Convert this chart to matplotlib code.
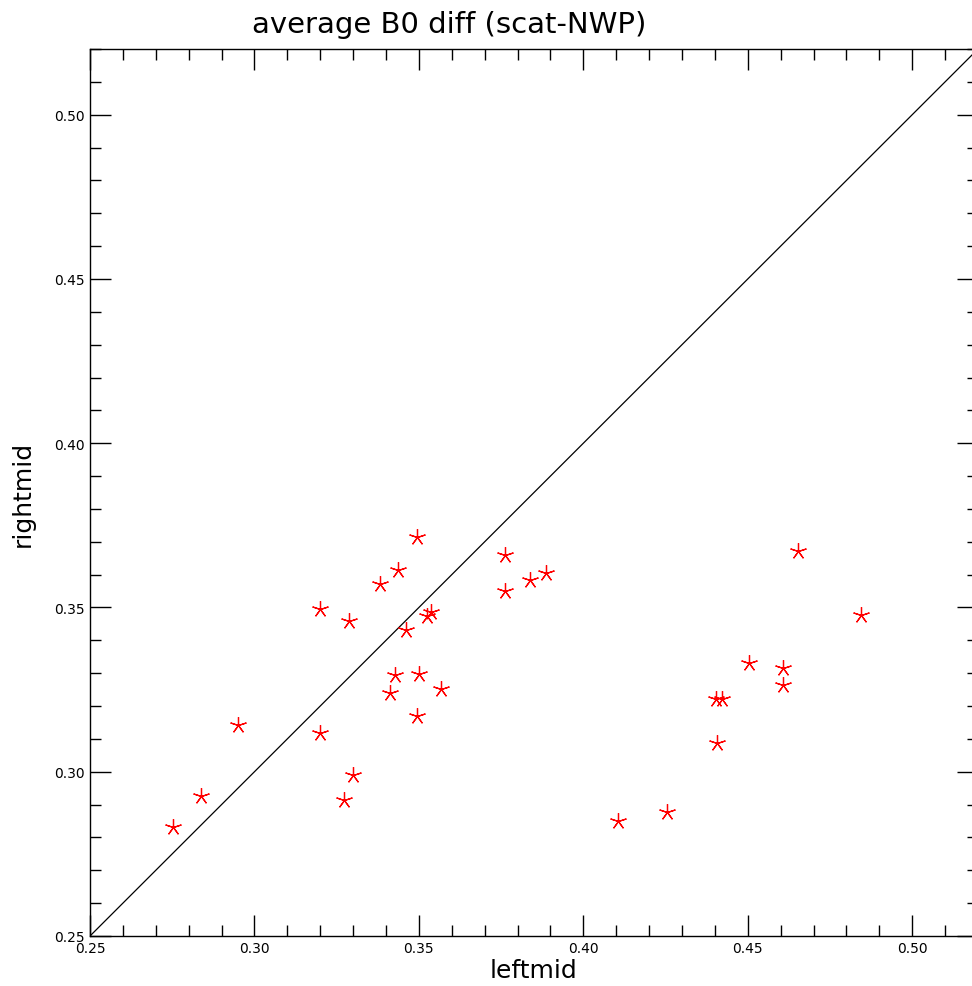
import numpy as np
import matplotlib
matplotlib.use('Agg')
import matplotlib.pyplot as plt
from matplotlib.ticker import MultipleLocator, FormatStrFormatter

leftmid = [0.2753, 0.2838, 0.2950, 0.3200, 0.3200, 0.3288, 0.3273, 0.3300,
           0.3383, 0.3437, 0.3495, 0.3462, 0.3537, 0.3525, 0.3428, 0.3413,
           0.3501, 0.3568, 0.3495, 0.3763, 0.3763, 0.3839, 0.3888, 0.4106,
           0.4255, 0.4407, 0.4402, 0.4422, 0.4505, 0.4608, 0.4608, 0.4652,
           0.4843]
rightmid = [0.2832, 0.2925, 0.3143, 0.3494, 0.3119, 0.3459, 0.2914, 0.2989,
            0.3570, 0.3615, 0.3716, 0.3430, 0.3485, 0.3473, 0.3294, 0.3241,
            0.3296, 0.3252, 0.3169, 0.3659, 0.3549, 0.3585, 0.3604, 0.2849,
            0.2878, 0.3086, 0.3220, 0.3220, 0.3332, 0.3316, 0.3265, 0.3672,
            0.3477]

lo, hi = 0.25, 0.52

fig = plt.figure(figsize=(9.72, 9.87), dpi=100)
ax = fig.add_axes([90/972, 50/987, 888/972, 887/987])

ax.plot([lo, hi], [lo, hi], color='black', lw=0.9)
ax.plot(leftmid, rightmid, linestyle='none', marker=(5, 2, 0), markersize=12,
        markeredgewidth=0.9, color='red')

ax.set_xlim(lo, hi)
ax.set_ylim(lo, hi)
for a in (ax.xaxis, ax.yaxis):
    a.set_major_locator(MultipleLocator(0.05))
    a.set_minor_locator(MultipleLocator(0.01))
    a.set_major_formatter(FormatStrFormatter('%.2f'))
ax.tick_params(which='both', direction='in', top=True, right=True, labelsize=10, width=1.0)
ax.tick_params(which='major', length=15)
ax.tick_params(which='minor', length=8)
for s in ax.spines.values():
    s.set_linewidth(1.0)

ax.set_xlabel('leftmid', fontsize=18, labelpad=2)
ax.set_ylabel('rightmid', fontsize=18, labelpad=14)
fig.text(449/972, 1 - 25/987, 'average B0 diff (scat-NWP)', fontsize=21,
         ha='center', va='center')

fig.savefig('out.png', dpi=100)
